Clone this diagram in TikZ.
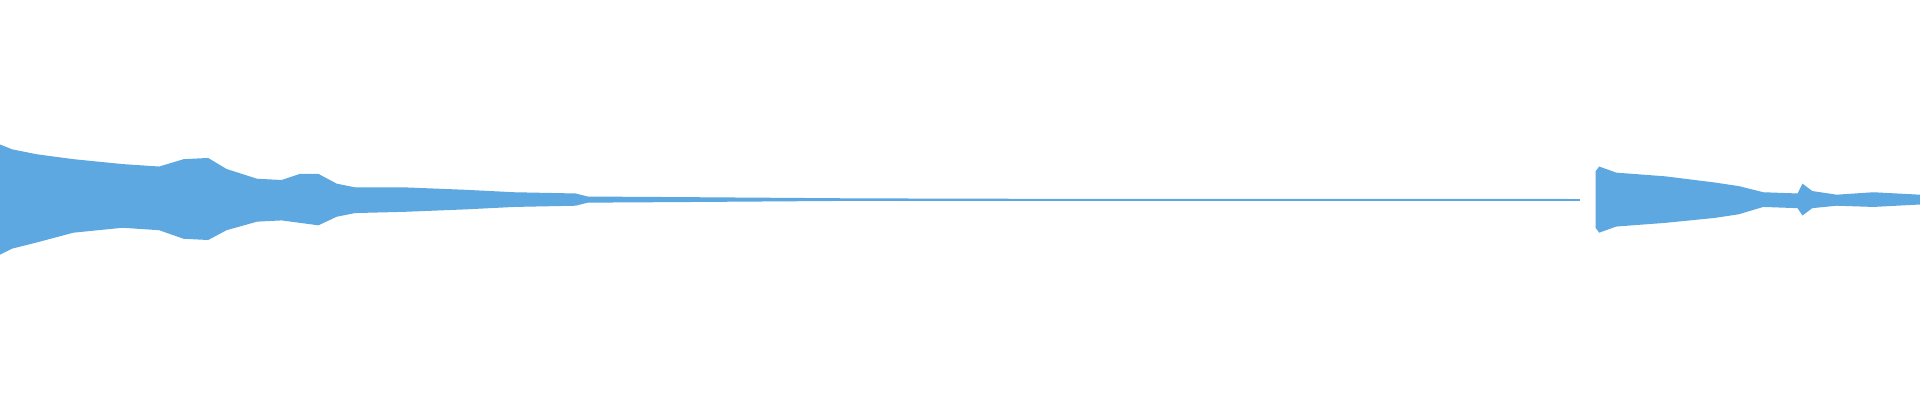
\documentclass[tikz,border=0pt]{standalone}
\definecolor{wave}{HTML}{5DA8E0}
\begin{document}
\begin{tikzpicture}[x=0.01cm,y=-0.01cm]
\useasboundingbox (0,0) rectangle (1568,327);
\fill[white] (0,0) rectangle (1568,327);
\draw[wave,line width=0.5pt] (0,163) -- (1290,163);
\fill[wave] (0,118) -- (10,122) -- (30,126) -- (60,130) -- (100,134) -- (130,136) -- (150,130) -- (170,129) -- (185,138) -- (210,146) -- (230,147) -- (245,142) -- (260,142) -- (275,150) -- (290,153) -- (330,153) -- (380,155) -- (420,157) -- (470,158) -- (480,160.5) -- (560,161) -- (700,162) -- (900,162.5) -- (1280,162.5)
 -- (1280,163.5) -- (900,163.5) -- (700,164) -- (560,165) -- (480,165.5) -- (470,168) -- (420,169) -- (380,171) -- (330,173) -- (290,174) -- (275,177) -- (260,184) -- (245,182) -- (230,180) -- (210,181) -- (185,188) -- (170,196) -- (150,195) -- (130,188) -- (100,186) -- (60,190) -- (30,198) -- (10,203) -- (0,208) -- cycle;
\fill[wave] (1303,140) -- (1306,136) -- (1320,141) -- (1360,144) -- (1400,149) -- (1420,152) -- (1440,157) -- (1468,158) -- (1472,150) -- (1480,156) -- (1500,159) -- (1530,157) -- (1568,159)
 -- (1568,167) -- (1530,169) -- (1500,168) -- (1480,170) -- (1472,176) -- (1468,170) -- (1440,169) -- (1420,175) -- (1400,178) -- (1360,182) -- (1320,185) -- (1306,190) -- (1303,186) -- cycle;
\end{tikzpicture}
\end{document}
